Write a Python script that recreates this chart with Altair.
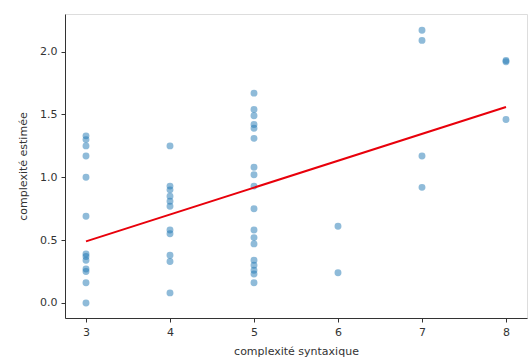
import altair as alt
import pandas as pd

x3 = [1.33, 1.30, 1.25, 1.17, 1.00, 0.69, 0.39, 0.37, 0.34, 0.27, 0.25, 0.16, 0.00]
x4 = [1.25, 0.93, 0.90, 0.85, 0.81, 0.77, 0.58, 0.55, 0.38, 0.33, 0.08]
x5 = [1.67, 1.54, 1.49, 1.42, 1.39, 1.31, 1.08, 1.02, 0.93, 0.75, 0.58, 0.52, 0.47, 0.34, 0.30, 0.26, 0.23, 0.16]
x6 = [0.61, 0.24]
x7 = [2.17, 2.09, 1.17, 0.92]
x8 = [1.93, 1.92, 1.46]

xs, ys = [], []
for xv, vals in [(3, x3), (4, x4), (5, x5), (6, x6), (7, x7), (8, x8)]:
    for v in vals:
        xs.append(xv)
        ys.append(v)
df = pd.DataFrame({"syn": xs, "est": ys})

fit_x = [3, 8]
fit_y = [0.49, 1.56]
fit = pd.DataFrame({"syn": fit_x, "est": fit_y})

xscale = alt.Scale(domain=[2.75, 8.25], nice=False, zero=False)
yscale = alt.Scale(domain=[-0.12, 2.30], nice=False, zero=False)

font = "DejaVu Sans"
xaxis = alt.Axis(values=[3, 4, 5, 6, 7, 8], format="d", grid=False, title="complexité syntaxique",
                 labelFont=font, titleFont=font, labelFontSize=11, titleFontSize=11,
                 titleFontWeight="normal", labelColor="#333", titleColor="#333",
                 domainColor="#333", tickColor="#333", tickSize=4, labelPadding=4, titlePadding=8)
yaxis = alt.Axis(values=[0, 0.5, 1, 1.5, 2], format=".1f", grid=False, title="complexité estimée",
                 labelFont=font, titleFont=font, labelFontSize=11, titleFontSize=11,
                 titleFontWeight="normal", labelColor="#333", titleColor="#333",
                 domainColor="#333", tickColor="#333", tickSize=4, labelPadding=4, titlePadding=11)

pts = alt.Chart(df).mark_circle(size=48, color="#1f77b4", opacity=0.5).encode(
    x=alt.X("syn:Q", scale=xscale, axis=xaxis),
    y=alt.Y("est:Q", scale=yscale, axis=yaxis),
)
line = alt.Chart(fit).mark_line(color="#e8000b", strokeWidth=2).encode(
    x=alt.X("syn:Q", scale=xscale),
    y=alt.Y("est:Q", scale=yscale),
)

chart = alt.layer(pts, line).properties(
    width=462, height=304,
    autosize=alt.AutoSizeParams(type="none"),
    padding={"left": 65, "top": 14, "right": 1, "bottom": 44},
).configure_view(stroke="#333", strokeWidth=1).configure(background="white")

chart.save("out.html", embed_options={"renderer": "svg", "actions": False})
